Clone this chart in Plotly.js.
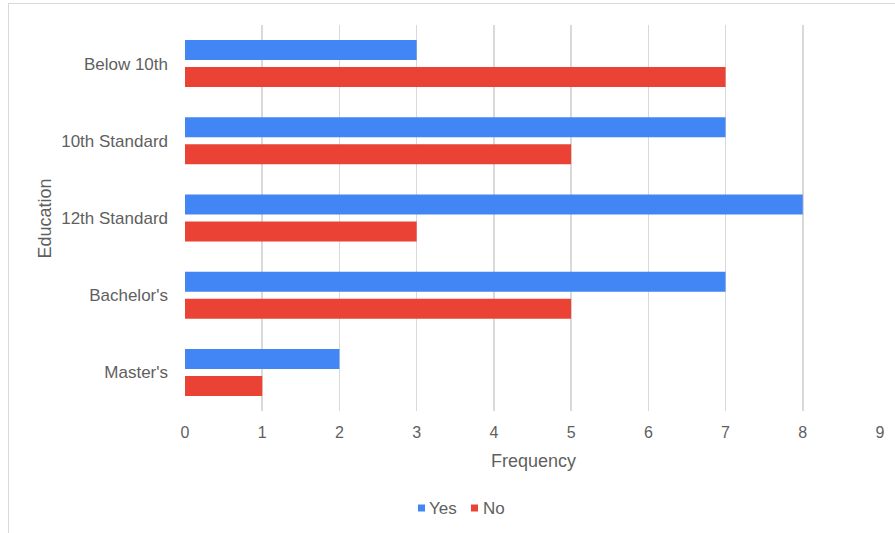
<!DOCTYPE html>
<html>
<head>
<meta charset="utf-8">
<script src="https://cdn.plot.ly/plotly-3.0.1.min.js"></script>
<style>
  html, body { margin:0; padding:0; background:#fff; overflow:hidden; }
  #chart { position:absolute; left:0; top:0; width:895px; height:533px; }
  #frame { position:absolute; left:8px; top:3px; width:1000px; height:1000px; border:1.5px solid #d9d9d9; pointer-events:none; }
</style>
</head>
<body>
<div id="chart"></div>
<div id="frame"></div>
<script>
const categories = ["Below 10th", "10th Standard", "12th Standard", "Bachelor's", "Master's"];
const seriesNames = ["Yes", "No"];
const yesValues = [3, 7, 8, 7, 2];
const noValues = [7, 5, 3, 5, 1];
const xTicks = [0, 1, 2, 3, 4, 5, 6, 7, 8, 9];

const font = "'Liberation Sans', Arial, sans-serif";
const colors = ["#4285F4", "#EA4335"];
const textColor = "#5f5f5f";
const traces = [
  { type: "bar", orientation: "h", name: seriesNames[0], x: yesValues, y: categories,
    marker: { color: colors[0] } },
  { type: "bar", orientation: "h", name: seriesNames[1], x: noValues, y: categories,
    marker: { color: colors[1] } }
];

// pixel -> paper helpers (plot area: x 185..880, y 25..411)
const L = 185, R = 880, T = 25, B = 411;
const px = v => (v - L) / (R - L);
const py = v => (B - v) / (B - T);

const legendY = 508;
const layout = {
  width: 895, height: 533,
  margin: { l: L, r: 895 - R, t: T, b: 533 - B },
  paper_bgcolor: "#fff", plot_bgcolor: "#fff",
  barmode: "group", bargap: 0.30, bargroupgap: 0.26,
  font: { family: font, size: 17, color: textColor },
  showlegend: false,
  xaxis: {
    range: [0, 9], tickvals: xTicks, ticktext: xTicks.map(String),
    showgrid: true, gridcolor: "#d9d9d9", gridwidth: 1.5,
    zeroline: false, showline: false, ticks: "", fixedrange: true,
    ticklabelstandoff: 10,
    tickfont: { family: font, size: 16, color: textColor }
  },
  yaxis: {
    type: "category", categoryorder: "array", categoryarray: categories,
    autorange: "reversed", showgrid: false, zeroline: false, showline: false,
    ticks: "", ticklabelstandoff: 16, tickfont: { family: font, size: 17, color: textColor }
  },
  shapes: [
    { type: "rect", xref: "paper", yref: "paper", x0: px(418), x1: px(425), y0: py(legendY + 3.5), y1: py(legendY - 3.5),
      fillcolor: colors[0], line: { width: 0 } },
    { type: "rect", xref: "paper", yref: "paper", x0: px(471), x1: px(478), y0: py(legendY + 3.5), y1: py(legendY - 3.5),
      fillcolor: colors[1], line: { width: 0 } }
  ],
  annotations: [
    { text: "Frequency", xref: "paper", yref: "paper", x: px(533), y: py(460.5),
      xanchor: "center", yanchor: "middle", showarrow: false, font: { family: font, size: 18, color: textColor } },
    { text: "Education", xref: "paper", yref: "paper", x: px(44), y: py(218.5),
      xanchor: "center", yanchor: "middle", textangle: -90, showarrow: false,
      font: { family: font, size: 18, color: textColor } },
    { text: seriesNames[0], xref: "paper", yref: "paper", x: px(427), y: py(legendY),
      xanchor: "left", yanchor: "middle", showarrow: false, font: { family: font, size: 17, color: textColor } },
    { text: seriesNames[1], xref: "paper", yref: "paper", x: px(481), y: py(legendY),
      xanchor: "left", yanchor: "middle", showarrow: false, font: { family: font, size: 17, color: textColor } }
  ]
};

Plotly.newPlot("chart", traces, layout, { displayModeBar: false, staticPlot: true });
</script>
</body>
</html>
